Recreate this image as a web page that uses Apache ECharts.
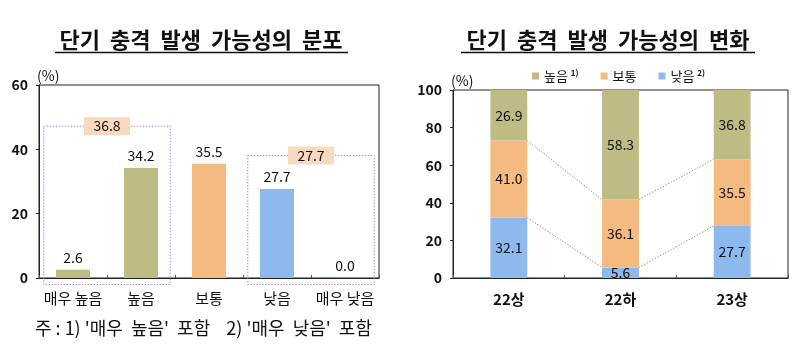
<!DOCTYPE html>
<html><head><meta charset="utf-8">
<script src="https://cdn.jsdelivr.net/npm/echarts@6/dist/echarts.min.js"></script>
<style>html,body{margin:0;padding:0;background:#fff}#c{width:798px;height:356px}</style>
</head><body><div id="c"></div>
<script>
// ---- data ----
const distCategories = ['매우 높음', '높음', '보통', '낮음', '매우 낮음'];
const distValues = [2.6, 34.2, 35.5, 27.7, 0.0];
const changeCategories = ['22상', '22하', '23상'];
const highValues = [26.9, 58.3, 36.8];
const midValues = [41.0, 36.1, 35.5];
const lowValues = [32.1, 5.6, 27.7];
const legendNames = ['높음', '보통', '낮음'];
const highGroup = [0, 1];   // '매우 높음' + '높음'
const lowGroup = [3, 4];    // '낮음' + '매우 낮음'
const leftTitle = '단기  충격  발생  가능성의  분포';
const rightTitle = '단기  충격  발생  가능성의  변화';
const footnote = "주 : 1) '매우  높음'  포함    2) '매우  낮음'  포함";

// ---- styles ----
const FONT = '"Noto Sans CJK KR", "Noto Sans", sans-serif';
const OLIVE = '#BDBC85', ORANGE = '#F5BA80', BLUE = '#8DB9EE';
const distColors = [OLIVE, OLIVE, ORANGE, BLUE, BLUE];
const LEFT_BAR = '50%', RIGHT_BAR = '33%';

const chart = echarts.init(document.getElementById('c'), null, { renderer: 'canvas' });

const axisCommonY = {
  type: 'value',
  splitLine: { show: false },
  axisLine: { show: true, lineStyle: { color: '#222', width: 1 } },
  axisTick: { show: true, length: 3, lineStyle: { color: '#222' } },
  axisLabel: { color: '#111', fontSize: 14, fontWeight: 'bold', fontFamily: FONT, margin: 11 },
  name: '(%)',
  nameLocation: 'end',
  nameGap: 2,
  nameTextStyle: { align: 'left', verticalAlign: 'bottom', color: '#111', fontSize: 14, fontFamily: FONT, padding: [0, 0, 0, -2] }
};

const option = {
  animation: false,
  backgroundColor: '#fff',
  grid: [
    { left: 39, right: 419, top: 85, bottom: 78, show: true, borderColor: '#222', borderWidth: 1 },
    { left: 453, right: 10, top: 90, bottom: 78, show: true, borderColor: '#222', borderWidth: 1 }
  ],
  legend: {
    data: legendNames,
    top: 64,
    left: 527,
    icon: 'rect',
    itemWidth: 7,
    itemHeight: 7,
    itemGap: 22,
    textStyle: {
      fontSize: 13, color: '#111', fontFamily: FONT,
      rich: { sup: { fontSize: 8, verticalAlign: 'top', padding: [0, 0, 6, 0], fontFamily: FONT, fontWeight: 'bold', color: '#111' } }
    },
    formatter: function (n) {
      if (n === legendNames[0]) return n + ' {sup|1)}';
      if (n === legendNames[2]) return n + ' {sup|2)}';
      return n;
    }
  },
  xAxis: [
    {
      type: 'category', gridIndex: 0, data: distCategories,
      axisLine: { lineStyle: { color: '#222' } },
      axisTick: { show: true, inside: true, length: 3, lineStyle: { color: '#555' } },
      axisLabel: { color: '#111', fontSize: 15, fontFamily: FONT, margin: 13, interval: 0 }
    },
    {
      type: 'category', gridIndex: 1, data: changeCategories,
      axisLine: { lineStyle: { color: '#222' } },
      axisTick: { show: true, inside: true, length: 3, lineStyle: { color: '#555' } },
      axisLabel: { color: '#111', fontSize: 15, fontWeight: 'bold', fontFamily: FONT, margin: 14 }
    }
  ],
  yAxis: [
    Object.assign({}, axisCommonY, { gridIndex: 0, min: 0, max: 60, interval: 20 }),
    Object.assign({}, axisCommonY, { gridIndex: 1, min: 0, max: 100, interval: 20 })
  ],
  series: [
    {
      type: 'bar', xAxisIndex: 0, yAxisIndex: 0, barWidth: LEFT_BAR,
      data: distValues.map((v, i) => ({ value: v, itemStyle: { color: distColors[i] } })),
      label: {
        show: true, position: 'top', distance: 5, color: '#111', fontSize: 14, fontFamily: FONT,
        formatter: p => p.value.toFixed(1)
      },
      z: 3
    },
    {
      name: legendNames[2], type: 'bar', stack: 'chg', xAxisIndex: 1, yAxisIndex: 1, barWidth: RIGHT_BAR,
      data: lowValues, itemStyle: { color: BLUE },
      label: { show: true, position: 'inside', color: '#111', fontSize: 14, fontFamily: FONT, formatter: p => p.value.toFixed(1) }
    },
    {
      name: legendNames[1], type: 'bar', stack: 'chg', xAxisIndex: 1, yAxisIndex: 1, barWidth: RIGHT_BAR,
      data: midValues, itemStyle: { color: ORANGE },
      label: { show: true, position: 'inside', color: '#111', fontSize: 14, fontFamily: FONT, formatter: p => p.value.toFixed(1) }
    },
    {
      name: legendNames[0], type: 'bar', stack: 'chg', xAxisIndex: 1, yAxisIndex: 1, barWidth: RIGHT_BAR,
      data: highValues, itemStyle: { color: OLIVE },
      label: { show: true, position: 'inside', color: '#111', fontSize: 14, fontFamily: FONT, formatter: p => p.value.toFixed(1) }
    }
  ]
};
chart.setOption(option);

// ---- annotations computed through the chart's own axes ----
const g = [];
function titleEls(text, cx, lineX0, lineX1) {
  g.push({ type: 'text', x: cx, y: 40, style: { text: text, fontSize: 22, fontWeight: 'bold', fontFamily: FONT, fill: '#111', textAlign: 'center', textVerticalAlign: 'middle' } });
  g.push({ type: 'line', shape: { x1: lineX0, y1: 52.5, x2: lineX1, y2: 52.5 }, style: { stroke: '#111', lineWidth: 1.5 } });
}
titleEls(leftTitle, 201, 55, 348);
titleEls(rightTitle, 608, 461, 755);

g.push({ type: 'text', x: 35, y: 328, style: { text: footnote, fontSize: 18, fontFamily: FONT, fill: '#111', textAlign: 'left', textVerticalAlign: 'middle' } });

const px = (c) => chart.convertToPixel({ xAxisIndex: 0 }, c);
const py = (v) => chart.convertToPixel({ yAxisIndex: 0 }, v);
const band0 = px(distCategories[1]) - px(distCategories[0]);
function groupBox(idx) {
  const sum = idx.reduce((s, i) => s + distValues[i], 0);
  const x0 = px(distCategories[idx[0]]) - 0.43 * band0;
  const x1 = px(distCategories[idx[idx.length - 1]]) + 0.43 * band0;
  const yTop = py(sum + 10.4);
  const yBot = py(0) + 6.5;
  g.push({ type: 'rect', shape: { x: x0, y: yTop, width: x1 - x0, height: yBot - yTop }, style: { fill: 'none', stroke: '#A98BD8', lineWidth: 1, lineDash: [1.5, 1.5] }, z: 1 });
  const cx = (x0 + x1) / 2;
  g.push({ type: 'rect', shape: { x: cx - 23, y: yTop - 9, width: 46, height: 18 }, style: { fill: '#FADABF' }, z: 5 });
  g.push({ type: 'text', x: cx, y: yTop, style: { text: sum.toFixed(1), fontSize: 14, fontFamily: FONT, fill: '#111', textAlign: 'center', textVerticalAlign: 'middle' }, z: 6 });
}
groupBox(highGroup);
groupBox(lowGroup);

const qx = (c) => chart.convertToPixel({ xAxisIndex: 1 }, c);
const qy = (v) => chart.convertToPixel({ yAxisIndex: 1 }, v);
const band1 = qx(changeCategories[1]) - qx(changeCategories[0]);
const half = band1 * parseFloat(RIGHT_BAR) / 100 / 2;
for (let i = 0; i < changeCategories.length - 1; i++) {
  const xa = qx(changeCategories[i]) + half;
  const xb = qx(changeCategories[i + 1]) - half;
  const levelsA = [lowValues[i], lowValues[i] + midValues[i]];
  const levelsB = [lowValues[i + 1], lowValues[i + 1] + midValues[i + 1]];
  for (let k = 0; k < 2; k++) {
    g.push({ type: 'line', shape: { x1: xa, y1: qy(levelsA[k]), x2: xb, y2: qy(levelsB[k]) }, style: { stroke: '#9a9a9a', lineWidth: 1, lineDash: [1.5, 1.5] }, z: 2 });
  }
}
chart.setOption({ graphic: g });
</script>
</body></html>
